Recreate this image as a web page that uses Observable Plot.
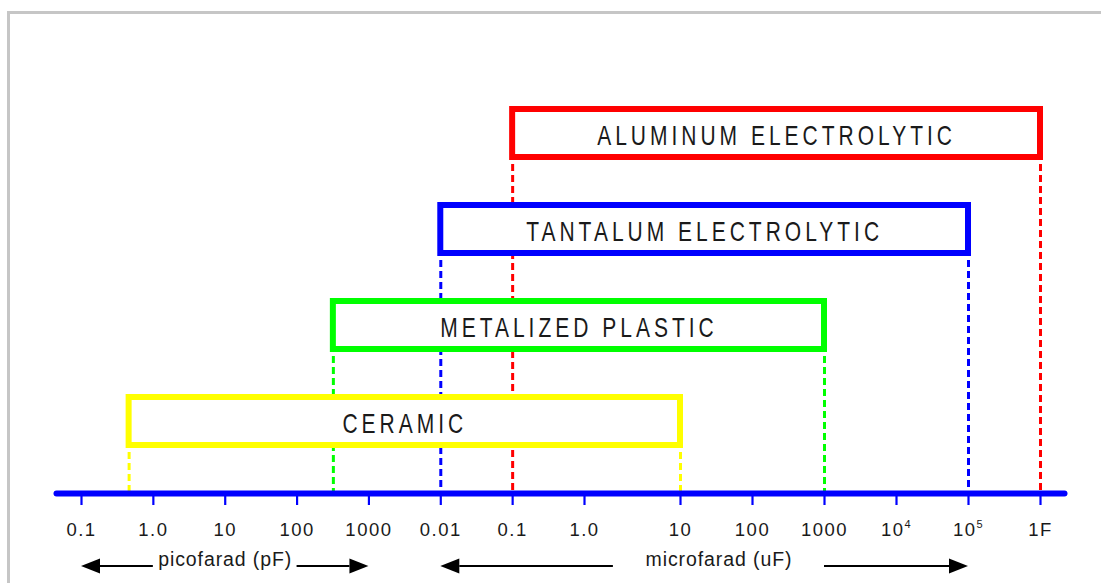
<!DOCTYPE html>
<html><head><meta charset="utf-8">
<script src="https://cdn.jsdelivr.net/npm/d3@7"></script>
<script src="https://cdn.jsdelivr.net/npm/@observablehq/plot@0.6"></script>
<style>
html,body{margin:0;padding:0;width:1101px;height:583px;overflow:hidden;background:#fff}
#frame{position:absolute;left:7px;top:11px;width:1300px;height:800px;border-left:3px solid #c6c6c6;border-top:3px solid #c6c6c6;box-sizing:border-box}
#chart{position:absolute;left:0;top:0}
</style></head><body>
<div id="frame"></div><div id="chart"></div>
<script>
// Capacitance ranges, all values in picofarads
const types = ["ALUMINUM ELECTROLYTIC", "TANTALUM ELECTROLYTIC", "METALIZED PLASTIC", "CERAMIC"];
const minPF = [1e5, 1e4, 320, 0.46];
const maxPF = [1e12, 1e11, 1e9, 1e7];
// axis ticks (pF) and their printed labels
const tickPF = [0.1, 1, 10, 100, 1000, 1e4, 1e5, 1e6, 1e7, 1e8, 1e9, 1e10, 1e11, 1e12];
const tickLabels = ["0.1", "1.0", "10", "100", "1000", "0.01", "0.1", "1.0", "10", "100", "1000", "10⁴", "10⁵", "1F"];
// unit bands under the axis (pF): outer arrow tips and inner arrow tails
const unitNames = ["picofarad (pF)", "microfarad (uF)"];
const unitOuterPF = [[0.1, 1000], [1e4, 1e11]];
const unitInnerPF = [[1, 100], [2e6, 1e9]];
// break points of the hand-drawn log axis (not evenly spaced between 1 µF and 100 µF)
const axisBreaksPF = [0.1, 1e6, 1e7, 1e8, 1e12];

const xOpts = {type: "log", domain: axisBreaksPF, range: [81, 584, 680, 752, 1040]};
const xs = Plot.scale({x: xOpts});
const mid = (a, b) => xs.invert((xs.apply(a) + xs.apply(b)) / 2);
const labelOf = new Map(tickPF.map((v, i) => [v, tickLabels[i]]));

const ranges = types.map((name, i) => ({name, lo: minPF[i], hi: maxPF[i]}));
const edges = ranges.flatMap(d => [{name: d.name, v: d.lo}, {name: d.name, v: d.hi}]);
const units = unitNames.map((name, i) => ({name, a: unitInnerPF[i][0], b: unitInnerPF[i][1]}));
const bottomRow = types[types.length - 1];

function unitArrows(index, scales, values, dims) {
  const y = dims.height - dims.marginBottom + 73;
  const g = d3.create("svg:g").attr("fill", "#000").attr("stroke", "#000");
  unitOuterPF.forEach(([o0, o1], i) => {
    const [i0, i1] = unitInnerPF[i];
    for (const [from, to] of [[i0, o0], [i1, o1]]) {
      const x0 = scales.x(from), x1 = scales.x(to);
      const dir = Math.sign(x1 - x0);
      const head = 19, half = 7.5;
      g.append("line").attr("x1", x0).attr("x2", x1 - dir * head).attr("y1", y).attr("y2", y).attr("stroke-width", 1.8);
      g.append("path").attr("d", `M${x1},${y}L${x1 - dir * head},${y - half}L${x1 - dir * head},${y + half}Z`).attr("stroke", "none");
    }
  });
  return g.node();
}

const plot = Plot.plot({
  width: 1101, height: 583,
  marginLeft: 56, marginRight: 37, marginTop: 0, marginBottom: 90,
  x: {...xOpts, axis: null, label: null},
  y: {type: "band", domain: types, range: [85, 469], paddingInner: 0.5, paddingOuter: 0.25, axis: null, label: null},
  color: {domain: types, range: ["#ff0000", "#0000ff", "#00ff00", "#ffff00"]},
  style: {fontFamily: "'Liberation Sans', Arial, sans-serif", color: "#1a1a1a", background: "transparent", overflow: "visible"},
  marks: [
    Plot.ruleX(edges, {x: "v", y1: "name", y2: () => bottomRow, insetBottom: -48, stroke: "name", strokeWidth: 3, strokeDasharray: "7,4"}),
    Plot.frame({anchor: "bottom", stroke: "#0000ff", strokeWidth: 6, strokeLinecap: "round"}),
    Plot.axisX({ticks: tickPF, tickFormat: d => labelOf.get(d), label: null, tickSize: 12, tickPadding: 17, stroke: "#0000ff", strokeWidth: 2.2, fill: "#1a1a1a", fontSize: 18.5}),
    Plot.barX(ranges, {x1: "lo", x2: "hi", y: "name", fill: "white", stroke: "name", strokeWidth: 6}),
    Plot.text(ranges, {x: d => mid(d.lo, d.hi), y: "name", text: "name", dy: 2, fontSize: 21, fill: "#1a1a1a"}),
    Plot.text(units, {x: d => mid(d.a, d.b), text: "name", frameAnchor: "bottom", dy: 72, fontSize: 19.5, fill: "#1a1a1a"}),
    unitArrows
  ]
});
// typographic touches: letter spacing, taller box lettering, real superscripts
plot.querySelectorAll('[font-size="21"]').forEach(g => {
  g.style.letterSpacing = "4px";
  g.querySelectorAll("text").forEach(t => t.setAttribute("transform", (t.getAttribute("transform") || "") + " scale(1,1.35)"));
});
plot.querySelectorAll('[font-size="18.5"]').forEach(n => n.style.letterSpacing = "1.5px");
plot.querySelectorAll('[font-size="19.5"]').forEach(n => n.style.letterSpacing = "0.9px");
plot.querySelectorAll("text").forEach(t => {
  const m = /^10([⁰¹²³⁴⁵⁶⁷⁸⁹])$/.exec(t.textContent);
  if (!m) return;
  const sup = "⁰¹²³⁴⁵⁶⁷⁸⁹".indexOf(m[1]);
  t.textContent = "10";
  const ts = document.createElementNS("http://www.w3.org/2000/svg", "tspan");
  ts.setAttribute("font-size", "11");
  ts.setAttribute("dy", "-7.4");
  ts.textContent = String(sup);
  t.append(ts);
});
document.getElementById("chart").append(plot);
</script>
</body></html>
